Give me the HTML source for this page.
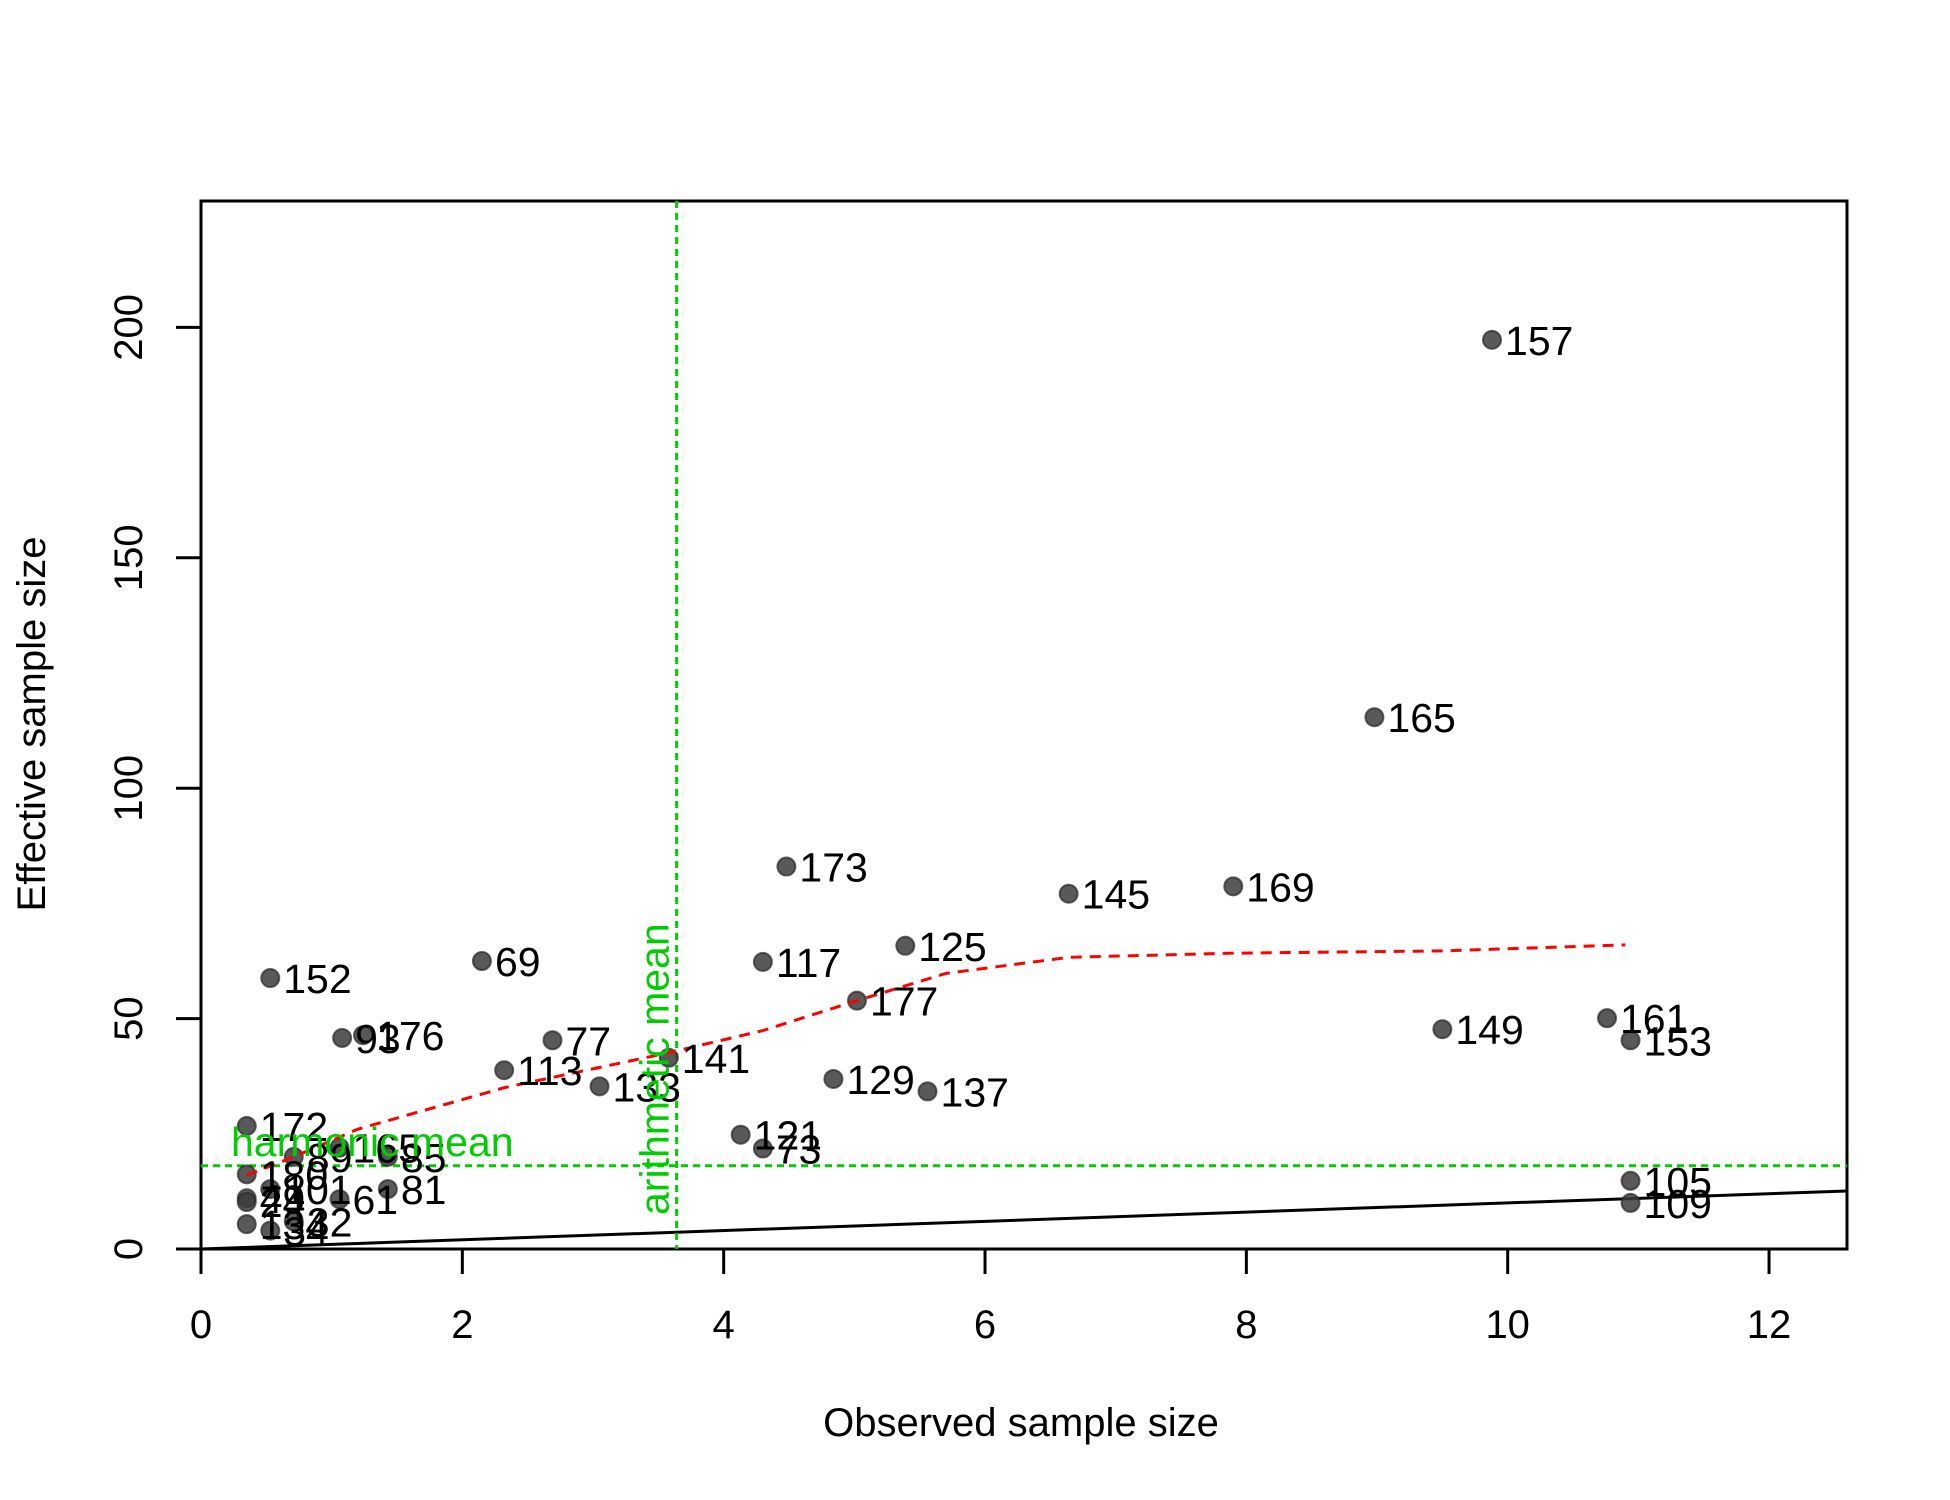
<!DOCTYPE html>
<html><head><meta charset="utf-8"><style>
html,body{margin:0;padding:0;background:#fff}
svg{display:block;font-family:"Liberation Sans",Arial,sans-serif}
</style></head><body>
<svg id="chart" width="1950" height="1500" viewBox="0 0 1950 1500">
<rect x="0" y="0" width="1950" height="1500" fill="#fff"/>
<g id="plot"></g>
<text x="1021" y="1436" font-size="40" text-anchor="middle">Observed sample size</text>
<text transform="translate(45,724) rotate(-90)" font-size="40" text-anchor="middle">Effective sample size</text>
</svg>
<script>
const xTicks=[0,2,4,6,8,10,12];
const yTicks=[0,50,100,150,200];
const ids=["157","165","173","145","169","117","125","69","152","93","176","77","177","113","133","141","129","137","149","161","153","121","73","105","109","172","180","89","165","85","61","81","49","101","24","134","34","32"];
const obs=[9.88,8.98,4.48,6.64,7.90,4.30,5.39,2.15,0.53,1.08,1.24,2.69,5.02,2.32,3.05,3.58,4.84,5.56,9.50,10.76,10.94,4.13,4.30,10.94,10.94,0.35,0.35,0.71,1.06,1.43,1.06,1.43,0.35,0.53,0.35,0.35,0.53,0.71];
const eff=[197.3,115.4,83.0,77.1,78.7,62.3,65.8,62.5,58.8,45.8,46.4,45.3,53.9,38.8,35.3,41.5,36.9,34.2,47.7,50.1,45.3,24.8,21.8,14.8,10.0,26.7,16.2,20.0,22.0,20.0,10.8,13.0,11.0,13.0,10.2,5.4,4.0,6.0];
const smoothX=[0.35,0.71,1.2,2.32,3.58,4.3,5.02,5.7,6.64,7.9,9.5,10.9];
const smoothY=[16,20,26,35,42.6,47.4,53.9,59.8,63.3,64.2,64.7,66];
const harmonicMean=18.06;
const arithmeticMean=3.64;
const X=v=>201+v*130.67;
const Y=v=>1249-v*4.608;
const NS="http://www.w3.org/2000/svg";
const g=document.getElementById('plot');
function mk(t,a,parent){const e=document.createElementNS(NS,t);for(const k in a)e.setAttribute(k,a[k]);(parent||g).appendChild(e);return e;}
let e=mk('rect',{x:201,y:201,width:1646,height:1048,fill:'none',stroke:'#000','stroke-width':3});


xTicks.forEach(v=>{
 let t=mk('line',{x1:X(v),x2:X(v),y1:1249,y2:1274,stroke:'#000','stroke-width':3});
 
 
 let l=mk('text',{x:X(v),y:1338,'font-size':40,'text-anchor':'middle'});l.textContent=v;
 
 
});
yTicks.forEach(v=>{
 let t=mk('line',{x1:176,x2:201,y1:Y(v),y2:Y(v),stroke:'#000','stroke-width':3});
 
 
 let l=mk('text',{transform:`translate(142,${Y(v)}) rotate(-90)`,'font-size':40,'text-anchor':'middle'});l.textContent=v;
 
 
});
e=mk('line',{x1:X(0),y1:Y(0),x2:1847,y2:Y((1847-201)/130.67),stroke:'#000','stroke-width':3});


e=mk('line',{x1:201,x2:1847,y1:Y(harmonicMean),y2:Y(harmonicMean),stroke:'#00cd00','stroke-width':3,'stroke-dasharray':'7,5'});


e=mk('line',{x1:X(arithmeticMean),x2:X(arithmeticMean),y1:201,y2:1249,stroke:'#00cd00','stroke-width':3,'stroke-dasharray':'7,5'});


obs.forEach((v,i)=>{
 let c=mk('circle',{cx:X(v),cy:Y(eff[i]),r:9,fill:'rgba(60,60,60,0.85)',stroke:'rgba(40,40,40,0.7)','stroke-width':2});
 
 
});
let d=smoothX.map((v,i)=>(i?'L':'M')+X(v)+','+Y(smoothY[i])).join(' ');
e=mk('path',{d:d,fill:'none',stroke:'#ff0000','stroke-width':3,'stroke-dasharray':'11,8'});


obs.forEach((v,i)=>{
 let t=mk('text',{x:X(v)+13,y:Y(eff[i])+15,'font-size':41});t.textContent=ids[i];
 
 
});
e=mk('text',{x:231,y:1156,'font-size':41,fill:'#00cd00'});e.textContent='harmonic mean';


e=mk('text',{transform:`translate(${X(arithmeticMean)-8},1215) rotate(-90)`,'font-size':41,fill:'#00cd00'});e.textContent='arithmetic mean';


</script>
</body></html>
